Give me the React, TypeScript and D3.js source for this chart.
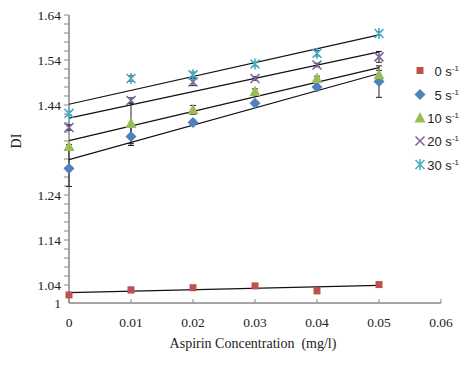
import { useEffect, useRef } from 'react';
import * as d3 from 'd3';

const concentrations = [0, 0.01, 0.02, 0.03, 0.04, 0.05];
const seriesNames = ['0', '5', '10', '20', '30'];
const di0 = [1.018, 1.029, 1.034, 1.038, 1.027, 1.041];
const di5 = [1.299, 1.37, 1.401, 1.444, 1.48, 1.492];
const di10 = [1.348, 1.399, 1.429, 1.47, 1.499, 1.507];
const di20 = [1.39, 1.45, 1.491, 1.499, 1.529, 1.547];
const di30 = [1.4215, 1.499, 1.507, 1.531, 1.555, 1.599];
const err0 = [0.003, 0.006, 0.004, 0.002, 0.006, 0.003];
const err5 = [0.04, 0.02, 0.005, 0.004, 0.004, 0.035];
const err10 = [0.004, 0.045, 0.01, 0.006, 0.005, 0.01];
const err20 = [0.006, 0.006, 0.008, 0.004, 0.004, 0.012];
const err30 = [0.004, 0.006, 0.006, 0.004, 0.006, 0.004];
const yTicks = [1, 1.04, 1.14, 1.24, 1.44, 1.54, 1.64];
const xTicks = [0, 0.01, 0.02, 0.03, 0.04, 0.05, 0.06];

const colors = ['#C0504D', '#4F81BD', '#9BBB59', '#8064A2', '#4BACC6'];
const shapes = ['square', 'diamond', 'triangle', 'x', 'star'];

function fit(xs: number[], ys: number[]) {
  const mx = d3.mean(xs) ?? 0;
  const my = d3.mean(ys) ?? 0;
  const sxy = d3.sum(xs, (x, i) => (x - mx) * (ys[i] - my));
  const sxx = d3.sum(xs, (x) => (x - mx) ** 2);
  const slope = sxy / sxx;
  return { slope, intercept: my - slope * mx };
}

export default function App() {
  const svgRef = useRef<SVGSVGElement>(null);

  useEffect(() => {
    if (!svgRef.current) return;
    const svg = d3.select(svgRef.current);
    svg.selectAll('*').remove();

    const x = d3.scaleLinear().domain([0, 0.06]).range([69, 441]);
    const y = d3.scaleLinear().domain([1, 1.64]).range([303, 15]);
    const font = '"Liberation Serif", "Times New Roman", serif';
    const axisColor = '#888';

    const all = [di0, di5, di10, di20, di30];
    const errs = [err0, err5, err10, err20, err30];

    // axes
    svg.append('line').attr('x1', x(0)).attr('x2', x(0.06)).attr('y1', y(1)).attr('y2', y(1))
      .attr('stroke', axisColor).attr('stroke-width', 1.5);
    svg.append('line').attr('x1', x(0)).attr('x2', x(0)).attr('y1', y(1)).attr('y2', y(1.64))
      .attr('stroke', axisColor).attr('stroke-width', 1.5);

    const minor = d3.range(0, 33).map((i) => 1.64 - i * 0.02).filter((v) => v >= 1.035);
    svg.selectAll('.ymin').data(minor).join('line')
      .attr('x1', x(0) - 5).attr('x2', x(0)).attr('y1', (d) => y(d)).attr('y2', (d) => y(d))
      .attr('stroke', axisColor);

    svg.selectAll('.xt').data(xTicks).join('line')
      .attr('x1', (d) => x(d)).attr('x2', (d) => x(d)).attr('y1', y(1)).attr('y2', y(1) - 4)
      .attr('stroke', axisColor);

    svg.selectAll('.ylab').data(yTicks).join('text')
      .attr('x', 61).attr('y', (d) => y(d) + 4.5)
      .attr('text-anchor', 'end').attr('font-family', font).attr('font-size', 13.5).attr('fill', '#222')
      .text((d) => (d === 1 ? '1' : d.toFixed(2)));

    svg.selectAll('.xlab').data(xTicks).join('text')
      .attr('x', (d) => x(d)).attr('y', 327)
      .attr('text-anchor', 'middle').attr('font-family', font).attr('font-size', 13.5).attr('fill', '#222')
      .text((d) => (d === 0 ? '0' : d.toFixed(2)));

    svg.append('text').attr('x', 253).attr('y', 348).attr('text-anchor', 'middle')
      .attr('font-family', font).attr('font-size', 14).attr('fill', '#222')
      .attr('xml:space', 'preserve').text('Aspirin Concentration  (mg/l)');

    svg.append('text').attr('transform', 'translate(21,141) rotate(-90)').attr('text-anchor', 'middle')
      .attr('font-family', font).attr('font-size', 14).attr('fill', '#222').text('DI');

    // error bars
    all.forEach((vals, s) => {
      const g = svg.append('g').attr('stroke', '#222').attr('stroke-width', 1);
      vals.forEach((v, i) => {
        const e = errs[s][i];
        const cx = x(concentrations[i]);
        g.append('line').attr('x1', cx).attr('x2', cx).attr('y1', y(v - e)).attr('y2', y(v + e));
        [v - e, v + e].forEach((t) => {
          g.append('line').attr('x1', cx - 3).attr('x2', cx + 3).attr('y1', y(t)).attr('y2', y(t));
        });
      });
    });

    // trend lines
    all.forEach((vals) => {
      const { slope, intercept } = fit(concentrations, vals);
      svg.append('line')
        .attr('x1', x(0)).attr('y1', y(intercept))
        .attr('x2', x(0.05)).attr('y2', y(intercept + slope * 0.05))
        .attr('stroke', '#111').attr('stroke-width', 1.2);
    });

    const drawMarker = (g: d3.Selection<SVGGElement, unknown, null, undefined>, shape: string, color: string) => {
      if (shape === 'square') {
        g.append('rect').attr('x', -3.5).attr('y', -3.5).attr('width', 7).attr('height', 7).attr('fill', color);
      } else if (shape === 'diamond') {
        g.append('path').attr('d', 'M0,-5.5L5.5,0L0,5.5L-5.5,0Z').attr('fill', color);
      } else if (shape === 'triangle') {
        g.append('path').attr('d', 'M0,-6L5.5,4.5L-5.5,4.5Z').attr('fill', color);
      } else if (shape === 'x') {
        g.append('path').attr('d', 'M-4.5,-4.5L4.5,4.5M4.5,-4.5L-4.5,4.5').attr('stroke', color).attr('stroke-width', 1.6);
      } else {
        g.append('path').attr('d', 'M-4.5,-4.5L4.5,4.5M4.5,-4.5L-4.5,4.5M0,-5.5L0,5.5')
          .attr('stroke', color).attr('stroke-width', 1.6);
      }
    };

    all.forEach((vals, s) => {
      vals.forEach((v, i) => {
        const g = svg.append('g').attr('transform', `translate(${x(concentrations[i])},${y(v)})`);
        drawMarker(g, shapes[s], colors[s]);
      });
    });

    // legend
    const legendY = [70.5, 94.5, 118, 141, 164.5];
    seriesNames.forEach((name, s) => {
      const g = svg.append('g').attr('transform', `translate(420,${legendY[s]})`);
      drawMarker(g, shapes[s], colors[s]);
      const t = svg.append('text').attr('x', 459).attr('y', legendY[s] + 5).attr('text-anchor', 'end')
        .attr('font-family', '"Liberation Sans", Arial, sans-serif').attr('font-size', 13).attr('fill', '#222');
      t.append('tspan').text(`${name} s`);
      t.append('tspan').attr('dy', -5).attr('font-size', 8).text('-1');
    });
  }, []);

  return (
    <svg
      ref={svgRef}
      width={466}
      height={366}
      style={{ position: 'absolute', left: 0, top: 0, background: '#fff', display: 'block' }}
    />
  );
}
